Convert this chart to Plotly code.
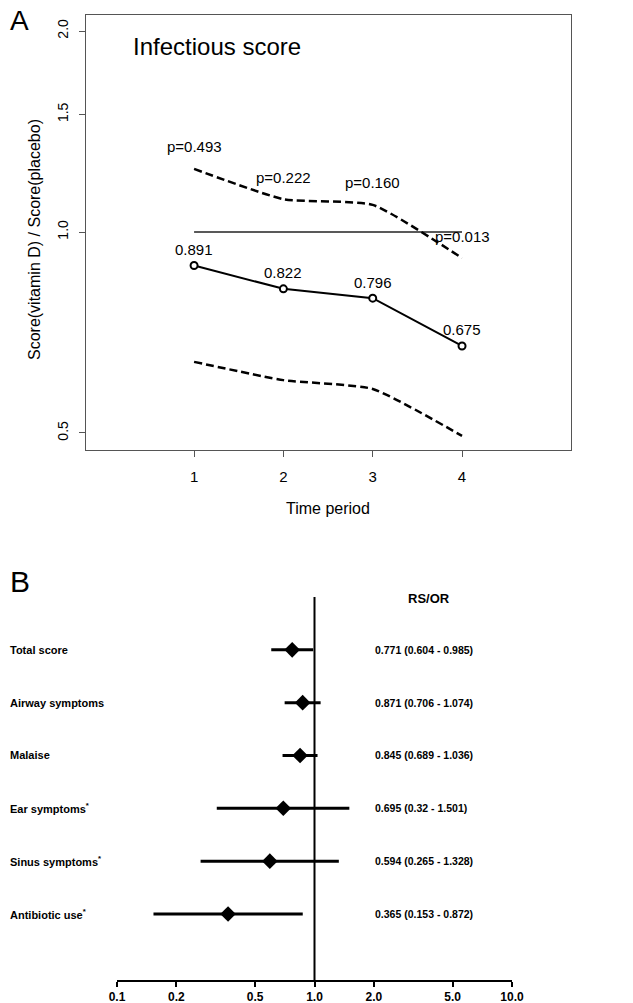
import math
import plotly.graph_objects as go

# ---------------- Panel A data ----------------
periods = [1, 2, 3, 4]
ratio = [0.891, 0.822, 0.796, 0.675]
ci_upper = [1.243, 1.12, 1.098, 0.914]
ci_lower = [0.639, 0.600, 0.582, 0.495]
p_values = ["0.493", "0.222", "0.160", "0.013"]
a_yticks = [0.5, 1.0, 1.5, 2.0]
a_yticklabels = ["0.5", "1.0", "1.5", "2.0"]

# ---------------- Panel B data ----------------
outcomes = ["Total score", "Airway symptoms", "Malaise",
            "Ear symptoms<sup>*</sup>", "Sinus symptoms<sup>*</sup>", "Antibiotic use<sup>*</sup>"]
estimates = [0.771, 0.871, 0.845, 0.695, 0.594, 0.365]
lower = [0.604, 0.706, 0.689, 0.32, 0.265, 0.153]
upper = [0.985, 1.074, 1.036, 1.501, 1.328, 0.872]
b_ticks = [0.1, 0.2, 0.5, 1.0, 2.0, 5.0, 10.0]
b_ticklabels = ["0.1", "0.2", "0.5", "1.0", "2.0", "5.0", "10.0"]

W, H = 633, 1003
OFF = 8  # page body margin in the browser
FONT = "Arial, Liberation Sans, Helvetica, sans-serif"


def px_x(p):
    return (max(p, OFF) - OFF) / W


def px_y(p):
    return 1 - (p - OFF) / H


fig = go.Figure()

# Panel A traces
dash_line = dict(color="black", width=2.5, dash="8px,4px")
fig.add_trace(go.Scatter(x=periods, y=ci_upper, mode="lines", line=dict(shape="spline", smoothing=0.5, **dash_line),
                         xaxis="x", yaxis="y", showlegend=False, hoverinfo="skip"))
fig.add_trace(go.Scatter(x=periods, y=ci_lower, mode="lines", line=dict(shape="spline", smoothing=0.5, **dash_line),
                         xaxis="x", yaxis="y", showlegend=False, hoverinfo="skip"))
fig.add_trace(go.Scatter(x=periods, y=ratio, mode="lines+markers",
                         line=dict(color="black", width=2),
                         marker=dict(symbol="circle", size=7, color="white", line=dict(color="black", width=2)),
                         xaxis="x", yaxis="y", showlegend=False))

# Panel B traces
rows = list(range(len(outcomes), 0, -1))
fig.add_trace(go.Scatter(
    x=estimates, y=rows, mode="markers",
    marker=dict(symbol="diamond", size=12, color="black"),
    error_x=dict(type="data", symmetric=False,
                 array=[u - e for u, e in zip(upper, estimates)],
                 arrayminus=[e - l for e, l in zip(estimates, lower)],
                 color="black", thickness=3, width=0),
    xaxis="x2", yaxis="y2", showlegend=False))

shapes = [
    # reference line at ratio 1 in panel A
    dict(type="line", xref="x", yref="y", x0=periods[0], x1=periods[-1], y0=1, y1=1,
         line=dict(color="#222", width=1.5), layer="below"),
    # line of no effect in panel B
    dict(type="line", xref="x2", yref="y2 domain", x0=1, x1=1, y0=0, y1=1,
         line=dict(color="black", width=2)),
]

annotations = []
annotations.append(dict(text="A", x=px_x(0), y=px_y(20), xref="paper", yref="paper", xanchor="left",
                        yanchor="middle", showarrow=False, font=dict(size=28, family=FONT, color="black")))
annotations.append(dict(text="B", x=px_x(4), y=px_y(581), xref="paper", yref="paper", xanchor="left",
                        yanchor="middle", showarrow=False, font=dict(size=30, family=FONT, color="black")))
annotations.append(dict(text="Infectious score", x=px_x(131), y=px_y(47), xref="paper", yref="paper",
                        xanchor="left", yanchor="middle", showarrow=False,
                        font=dict(size=24, family=FONT, color="black")))
annotations.append(dict(text="Score(vitamin D) / Score(placebo)", x=px_x(35), y=px_y(240), xref="paper",
                        yref="paper", textangle=-90, xanchor="center", yanchor="middle", showarrow=False,
                        font=dict(size=16, family=FONT, color="black")))
annotations.append(dict(text="Time period", x=px_x(328), y=px_y(508), xref="paper", yref="paper",
                        xanchor="center", yanchor="middle", showarrow=False,
                        font=dict(size=16, family=FONT, color="black")))
# annotations on a log axis take log10 coordinates
for xv, yv, pv in zip(periods, ci_upper, p_values):
    annotations.append(dict(text="p=" + pv, x=xv, y=math.log10(yv), xref="x", yref="y", yshift=22,
                            showarrow=False, xanchor="center", yanchor="middle",
                            font=dict(size=15, family=FONT, color="black")))
for xv, yv in zip(periods, ratio):
    annotations.append(dict(text=f"{yv:.3f}", x=xv, y=math.log10(yv), xref="x", yref="y", yshift=16,
                            showarrow=False, xanchor="center", yanchor="middle",
                            font=dict(size=15, family=FONT, color="black")))

# Panel B labels
annotations.append(dict(text="RS/OR", x=px_x(429), y=px_y(598), xref="paper", yref="paper",
                        xanchor="center", yanchor="middle", showarrow=False,
                        font=dict(size=13, family=FONT, color="black", weight="bold")))
for name, r, e, l, u in zip(outcomes, rows, estimates, lower, upper):
    annotations.append(dict(text=name, x=px_x(2), y=r, xref="paper", yref="y2", xanchor="left",
                            yanchor="middle", showarrow=False,
                            font=dict(size=11, family=FONT, color="black", weight="bold")))
    annotations.append(dict(text=f"{e} ({l} - {u})", x=px_x(373), y=r, xref="paper", yref="y2",
                            xanchor="left", yanchor="middle", showarrow=False,
                            font=dict(size=10.5, family=FONT, color="black", weight="bold")))

fig.update_layout(
    width=W, height=H,
    autosize=False,
    margin=dict(l=0, r=0, t=0, b=0, pad=0, autoexpand=False),
    paper_bgcolor="white", plot_bgcolor="white",
    font=dict(family=FONT, color="black"),
    xaxis=dict(domain=[px_x(86), px_x(571)], range=[-0.21, 5.22], tickvals=periods,
               ticktext=[str(p) for p in periods], showline=True, mirror=True, linecolor="#555",
               linewidth=1.2, ticks="outside", ticklen=6, tickcolor="#555", showgrid=False, zeroline=False,
               ticklabelstandoff=7,
               tickfont=dict(size=15, family=FONT, color="black"), anchor="y", automargin=False),
    yaxis=dict(domain=[px_y(450), px_y(15)], type="log", range=[-0.3265, 0.325], tickvals=a_yticks,
               ticktext=a_yticklabels, tickangle=-90, showline=True, mirror=True, linecolor="#555",
               linewidth=1.2, ticks="outside", ticklen=6, tickcolor="#555", showgrid=False, zeroline=False,
               ticklabelstandoff=5,
               tickfont=dict(size=14, family=FONT, color="black"), anchor="x", automargin=False),
    xaxis2=dict(domain=[px_x(117), px_x(512)], type="log", range=[-1, 1], tickvals=b_ticks,
                ticktext=b_ticklabels, showline=True, linecolor="black", linewidth=2, ticks="outside",
                ticklen=5, tickwidth=2, tickcolor="black", showgrid=False, zeroline=False,
                tickfont=dict(size=12, family=FONT, color="black", weight="bold"), anchor="y2",
                automargin=False),
    yaxis2=dict(domain=[px_y(980), px_y(597)], range=[-0.25, 7.0], visible=False, anchor="x2",
                automargin=False),
    shapes=shapes,
    annotations=annotations,
)

fig.write_html("out.html")
